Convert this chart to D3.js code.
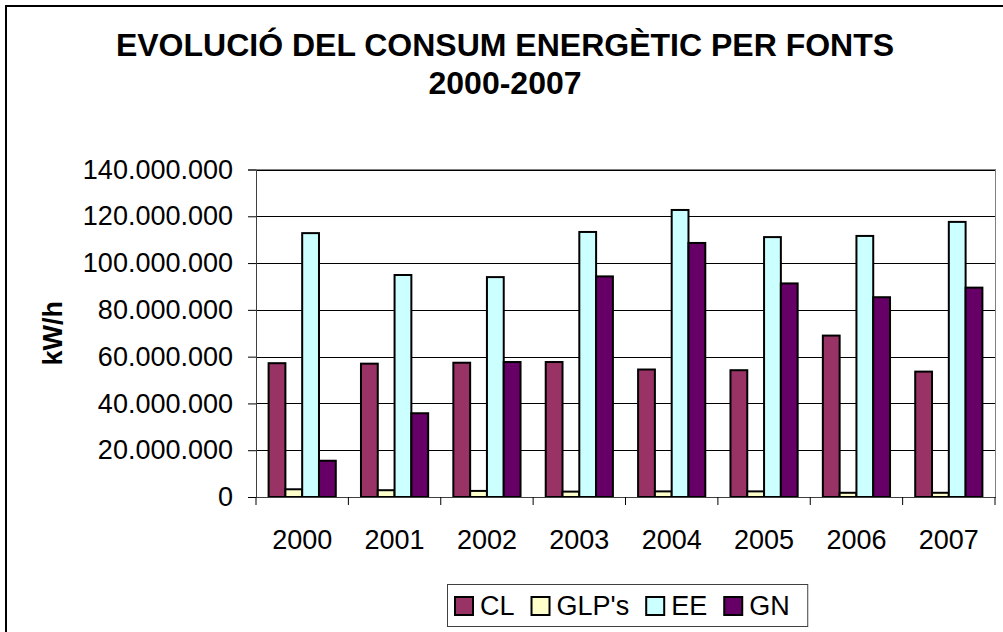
<!DOCTYPE html>
<html>
<head>
<meta charset="utf-8">
<script src="https://cdn.jsdelivr.net/npm/d3@7"></script>
<style>
    body { margin: 0; background: #fff; }
    svg { display: block; font-family: "Liberation Sans", Arial, sans-serif; }
</style>
</head>
<body>
<div id="chart"></div>
<script>
// chart values (kW/h)
var years = ['2000', '2001', '2002', '2003', '2004', '2005', '2006', '2007'];
var seriesNames = ['CL', "GLP's", 'EE', 'GN'];
var seriesColors = ['#993366', '#FFFFCC', '#CCFFFF', '#660066'];
var valuesCL = [57200000, 57000000, 57400000, 57700000, 54500000, 54200000, 69000000, 53600000];
var valuesGLP = [3300000, 2900000, 2600000, 2300000, 2400000, 2400000, 1800000, 1800000];
var valuesEE = [112800000, 94900000, 94000000, 113300000, 122700000, 111100000, 111600000, 117600000];
var valuesGN = [15500000, 35800000, 57700000, 94300000, 108600000, 91300000, 85400000, 89500000];
var yTicks = [0, 20000000, 40000000, 60000000, 80000000, 100000000, 120000000, 140000000];
var titleLines = ['EVOLUCIÓ DEL CONSUM ENERGÈTIC PER FONTS', '2000-2007'];
var yTitle = 'kW/h';

var width = 1003, height = 632;
var plot = {left: 256, top: 169.5, right: 995, bottom: 497};
var labelSize = 27;

var allValues = [valuesCL, valuesGLP, valuesEE, valuesGN];

var svg = d3.select('#chart').append('svg')
    .attr('width', width)
    .attr('height', height);

// chart border
svg.append('rect')
    .attr('x', 6)
    .attr('y', 6)
    .attr('width', width + 20)
    .attr('height', height + 20)
    .attr('fill', '#fff')
    .attr('stroke', '#000')
    .attr('stroke-width', 2);

// title
svg.append('g').selectAll('text').data(titleLines).enter()
    .append('text')
    .attr('x', 505)
    .attr('y', function(d, i) { return 56 + i * 38; })
    .attr('text-anchor', 'middle')
    .attr('font-size', 32)
    .attr('font-weight', 'bold')
    .text(function(d) { return d; });

var y = d3.scaleLinear().domain([0, 140000000]).range([plot.bottom, plot.top]);
var x0 = d3.scaleBand().domain(years).range([plot.left, plot.right]);
var x1 = d3.scaleBand().domain(seriesNames).range([0, x0.bandwidth()])
    .paddingInner(0).paddingOuter(0.75);

var locale = d3.formatLocale({decimal: ',', thousands: '.', grouping: [3], currency: ['', '€']});
var fmt = locale.format(',d');

// gridlines
svg.append('g')
    .attr('transform', 'translate(' + plot.left + ',0)')
    .call(d3.axisLeft(y).tickValues(yTicks.slice(1)).tickSize(-(plot.right - plot.left)).tickFormat(''))
    .call(function(g) {
        g.select('.domain').remove();
        g.selectAll('line').attr('stroke', '#000').attr('shape-rendering', 'crispEdges');
    });

// plot area border
svg.append('rect')
    .attr('x', plot.left)
    .attr('y', plot.top)
    .attr('width', plot.right - plot.left)
    .attr('height', plot.bottom - plot.top)
    .attr('fill', 'none')
    .attr('stroke', '#808080')
    .attr('shape-rendering', 'crispEdges');

// bars
var groups = svg.append('g').selectAll('g').data(years).enter()
    .append('g')
    .attr('transform', function(d) { return 'translate(' + x0(d) + ',0)'; });

groups.selectAll('rect')
    .data(function(d, i) {
        return seriesNames.map(function(s, j) {
            return {series: s, value: allValues[j][i], color: seriesColors[j]};
        });
    })
    .enter()
    .append('rect')
    .attr('x', function(d) { return x1(d.series); })
    .attr('y', function(d) { return y(d.value); })
    .attr('width', x1.bandwidth())
    .attr('height', function(d) { return y(0) - y(d.value); })
    .attr('fill', function(d) { return d.color; })
    .attr('stroke', '#000')
    .attr('stroke-width', 2);

// y axis
svg.append('g')
    .attr('transform', 'translate(' + plot.left + ',0)')
    .call(d3.axisLeft(y).tickValues(yTicks).tickSize(8).tickPadding(15).tickFormat(fmt))
    .call(function(g) {
        g.select('.domain').attr('stroke', '#404040');
        g.selectAll('line').attr('stroke', '#000');
        g.selectAll('text')
            .attr('font-size', labelSize)
            .attr('font-family', '"Liberation Sans", Arial, sans-serif')
            .attr('fill', '#000');
    });

// x axis
var xAxis = svg.append('g')
    .attr('transform', 'translate(0,' + plot.bottom + ')')
    .call(d3.axisBottom(x0).tickSize(0).tickPadding(33))
    .call(function(g) {
        g.select('.domain').attr('stroke', '#404040');
        g.selectAll('text')
            .attr('font-size', labelSize)
            .attr('font-family', '"Liberation Sans", Arial, sans-serif')
            .attr('fill', '#000');
    });

// tick marks between categories
xAxis.selectAll('.sep').data(years.concat(['end'])).enter()
    .append('line')
    .attr('class', 'sep')
    .attr('x1', function(d, i) { return i < years.length ? x0(d) : x0.range()[1]; })
    .attr('x2', function(d, i) { return i < years.length ? x0(d) : x0.range()[1]; })
    .attr('y1', 0)
    .attr('y2', 8)
    .attr('stroke', '#000');

// y axis title
svg.append('text')
    .attr('transform', 'translate(62,' + (plot.top + plot.bottom) / 2 + ') rotate(-90)')
    .attr('text-anchor', 'middle')
    .attr('font-size', labelSize)
    .attr('font-weight', 'bold')
    .text(yTitle);

// legend
var legend = svg.append('g');
var legendBox = legend.append('rect')
    .attr('fill', '#fff')
    .attr('stroke', '#404040');

var xPos = 455;
var legendItems = legend.selectAll('g').data(seriesNames).enter()
    .append('g');

legendItems.append('rect')
    .attr('y', 597)
    .attr('width', 18)
    .attr('height', 18)
    .attr('fill', function(d, i) { return seriesColors[i]; })
    .attr('stroke', '#000')
    .attr('stroke-width', 2);

legendItems.append('text')
    .attr('x', 25)
    .attr('y', 615)
    .attr('font-size', labelSize)
    .text(function(d) { return d; });

legendItems.each(function() {
    var item = d3.select(this);
    item.attr('transform', 'translate(' + xPos + ',0)');
    xPos += 25 + item.select('text').node().getComputedTextLength() + 17;
});

legendBox
    .attr('x', 447.5)
    .attr('y', 584.5)
    .attr('width', xPos - 17 + 18 - 447.5)
    .attr('height', 42);
</script>
</body>
</html>
